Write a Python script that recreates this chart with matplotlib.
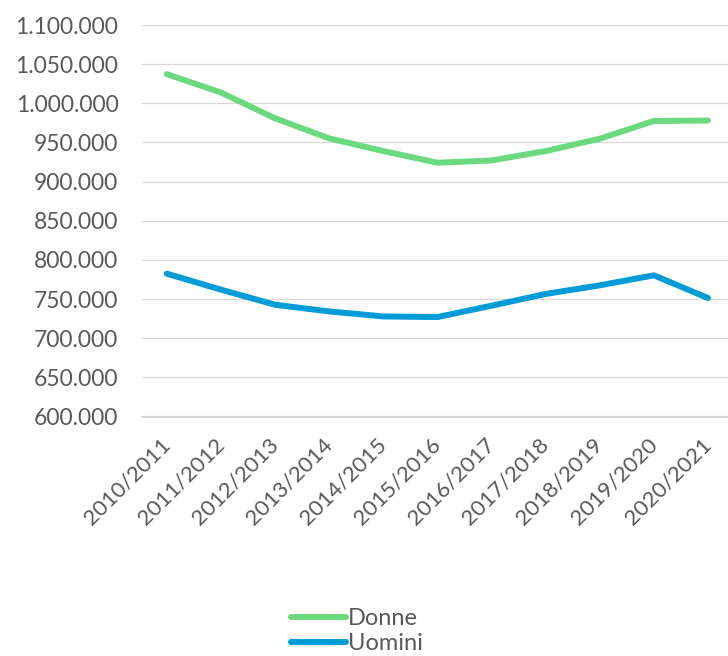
import matplotlib
import matplotlib.pyplot as plt
from matplotlib.ticker import FuncFormatter, MultipleLocator

matplotlib.use("Agg")

years = ["2010/2011", "2011/2012", "2012/2013", "2013/2014", "2014/2015", "2015/2016",
         "2016/2017", "2017/2018", "2018/2019", "2019/2020", "2020/2021"]
donne = [1037200, 1013700, 980800, 955200, 939000, 924100, 927000, 939000, 954800, 977400, 978000]
uomini = [782400, 762000, 742700, 734200, 727800, 727000, 741500, 756500, 767500, 780300, 751300]

GREEN = "#6BD97E"
BLUE = "#009CD8"
GRID = "#D9D9D9"
TEXT = "#595959"

plt.rcParams["font.family"] = ["Lato", "DejaVu Sans"]

fig = plt.figure(figsize=(7.28, 6.56), dpi=100)
ax = fig.add_axes([142 / 728, 1 - 416.5 / 656, 1 - 142 / 728, (416.5 - 25) / 656])

x = range(len(years))
ax.plot(x, donne, color=GREEN, lw=4.3, solid_capstyle="round", solid_joinstyle="round",
        label="Donne", zorder=3)
ax.plot(x, uomini, color=BLUE, lw=4.3, solid_capstyle="round", solid_joinstyle="round",
        label="Uomini", zorder=3)

ax.set_ylim(600000, 1100000)
ax.set_xlim(-0.46, 10.37)
ax.yaxis.set_major_locator(MultipleLocator(50000))
ax.yaxis.set_major_formatter(FuncFormatter(lambda v, _: f"{v:,.0f}".replace(",", ".")))
ax.grid(axis="y", color=GRID, lw=0.9)
ax.set_axisbelow(True)
for side in ("top", "right", "left"):
    ax.spines[side].set_visible(False)
ax.spines["bottom"].set_color(GRID)
ax.spines["bottom"].set_linewidth(1.6)

ax.set_xticks(list(x))
ax.set_xticklabels(years, rotation=45, ha="right", va="center", rotation_mode="anchor")
ax.tick_params(axis="x", length=0, pad=18, labelsize=16, labelcolor=TEXT)
ax.tick_params(axis="y", length=0, pad=17, labelsize=16.5, labelcolor=TEXT)

# legend sits low, like the original, but keeps "Uomini" inside the figure
fig.legend(loc="center left", bbox_to_anchor=(282 / 728, 1 - 631 / 656), frameon=False,
           fontsize=17, labelcolor=TEXT, handlelength=2.3, handletextpad=0.1,
           labelspacing=0.15, borderaxespad=0)

fig.savefig("out.png", dpi=100)
